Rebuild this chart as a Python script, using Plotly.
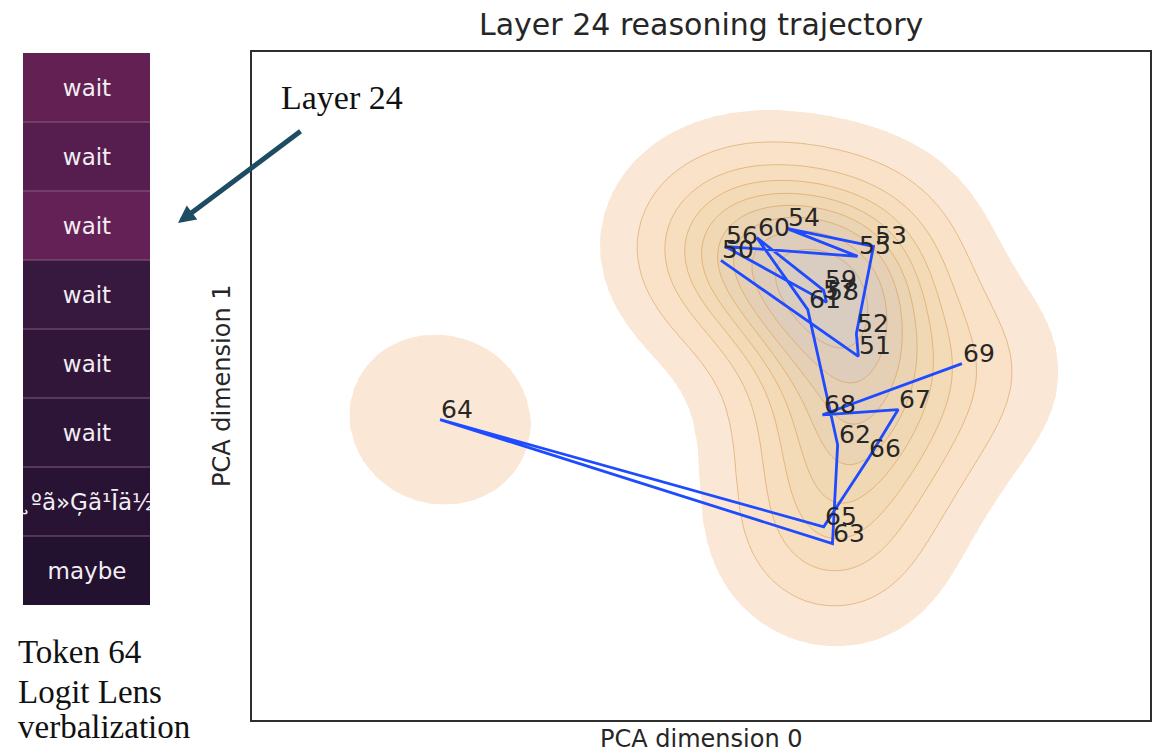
import numpy as np
import plotly.graph_objects as go

# ---- Layer 24 hidden states, tokens 50-69, projected on the first two PCA components
tokens = list(range(50, 70))
pca0 = [0.50, 3.95, 3.90, 4.33, 2.15, 3.93, 0.60, 3.03, 3.15, 3.08,
        1.40, 2.68, 3.43, 3.30, -6.55, 3.08, 4.20, 4.95, 3.05, 6.55]
pca1 = [3.53, 1.13, 1.70, 3.88, 4.33, 3.63, 3.88, 2.55, 2.48, 2.78,
        4.10, 2.30, -1.08, -3.55, -0.45, -3.13, -1.43, -0.20, -0.33, 0.95]

# ---- Logit-lens verbalization of token 64 (top to bottom) and cell strengths
lens_tokens = ["wait", "wait", "wait", "wait", "wait", "wait", "¸ºã»Ģã¹Īä½", "maybe"]
lens_probs = [0.31, 0.26, 0.32, 0.14, 0.115, 0.10, 0.08, 0.05]

# ---- Gaussian KDE of the trajectory (Scott bandwidth, full covariance)
pts = np.vstack([pca0, pca1])
n = pts.shape[1]
kcov = np.cov(pts) * (n ** (-1.0 / 6.0)) ** 2
kinv = np.linalg.inv(kcov)
bw = np.sqrt(np.diag(kcov))
xmin, xmax = pts[0].min() - 3 * bw[0], pts[0].max() + 3 * bw[0]
ymin, ymax = pts[1].min() - 3 * bw[1], pts[1].max() + 3 * bw[1]

gx = np.linspace(xmin, xmax, 220)
gy = np.linspace(ymin, ymax, 220)
GX, GY = np.meshgrid(gx, gy)
dens = np.zeros_like(GX)
for px, py in zip(pca0, pca1):
    dx, dy = GX - px, GY - py
    q = kinv[0, 0] * dx * dx + 2 * kinv[0, 1] * dx * dy + kinv[1, 1] * dy * dy
    dens += np.exp(-0.5 * q)
dens /= n * 2 * np.pi * np.sqrt(np.linalg.det(kcov))

# iso-proportion levels (5% .. 100% of the mass)
isoprop = np.linspace(0.05, 1.0, 10)
vals = np.sort(dens.ravel())[::-1]
cum = np.cumsum(vals) / vals.sum()
idx = np.clip(np.searchsorted(cum, 1 - isoprop), 0, vals.size - 1)
levels = vals[idx]
# map density onto level index so the contour levels become 0, 1, ..., 9
zlev = np.where(dens < levels[0], dens / levels[0] - 1.0,
                np.interp(dens, levels, np.arange(levels.size)))

band_colors = ["#fbe7d5", "#f9e2c8", "#f7debe", "#f4dbb7", "#f0d8b4",
               "#ebd4b4", "#e5d0b6", "#dfcdbb", "#d9ccc0"]
nb = len(band_colors)
kde_scale = [[0.0, "#ffffff"]] + [[(i + 1) / nb, c] for i, c in enumerate(band_colors)]

fig = go.Figure()

fig.add_trace(go.Contour(
    x=gx, y=gy, z=zlev, autocontour=False,
    contours=dict(start=0, end=nb - 1, size=1, coloring="fill", showlines=False),
    colorscale=kde_scale, showscale=False, line_smoothing=0.9,
    hoverinfo="skip", xaxis="x", yaxis="y"))
fig.add_trace(go.Contour(
    x=gx, y=gy, z=zlev, autocontour=False,
    contours=dict(start=1, end=nb - 1, size=1, coloring="none"),
    line=dict(color="rgba(212,150,75,0.55)", width=1, smoothing=0.9),
    showscale=False, hoverinfo="skip", xaxis="x", yaxis="y"))

fig.add_trace(go.Scatter(
    x=pca0, y=pca1, mode="lines",
    line=dict(color="rgb(30,75,255)", width=2.8),
    hoverinfo="skip", showlegend=False, xaxis="x", yaxis="y"))

# logit-lens column
fig.add_trace(go.Heatmap(
    z=[[p] for p in lens_probs], x=[0], y=list(range(len(lens_probs))),
    text=[[t] for t in lens_tokens], texttemplate="%{text}",
    textfont=dict(family="DejaVu Sans", size=23, color="#f3eef3"),
    colorscale=[[0.0, "#160e26"], [0.5, "#3f1a44"], [1.0, "#6c2258"]],
    zmin=0, zmax=0.35, showscale=False, hoverinfo="skip",
    xaxis="x2", yaxis="y2"))

W, H = 1161, 753
ann = []
for t, x, y in zip(tokens, pca0, pca1):
    ann.append(dict(x=x, y=y, xref="x", yref="y", text=str(t), showarrow=False,
                    xanchor="left", yanchor="bottom", xshift=-1, yshift=-6,
                    font=dict(family="DejaVu Sans", size=25, color="#262626")))

ann += [
    dict(x=701 / W, y=1 - 25 / H, xref="paper", yref="paper", showarrow=False,
         text="Layer 24 reasoning trajectory", xanchor="center", yanchor="middle",
         font=dict(family="DejaVu Sans", size=30, color="#262626")),
    dict(x=701 / W, y=1 - 739 / H, xref="paper", yref="paper", showarrow=False,
         text="PCA dimension 0", xanchor="center", yanchor="middle",
         font=dict(family="DejaVu Sans", size=24, color="#262626")),
    dict(x=222 / W, y=1 - 386 / H, xref="paper", yref="paper", showarrow=False,
         text="PCA dimension 1", textangle=-90, xanchor="center", yanchor="middle",
         font=dict(family="DejaVu Sans", size=24, color="#262626")),
    dict(x=279 / W, y=1 - 97 / H, xref="paper", yref="paper", showarrow=False,
         text="Layer 24", xanchor="left", yanchor="middle",
         font=dict(family="Liberation Serif", size=34, color="#111111")),
    dict(x=178 / W, y=1 - 223 / H, xref="paper", yref="paper", text="",
         showarrow=True, ax=124, ay=-93, arrowhead=2, arrowsize=0.7,
         arrowwidth=5, arrowcolor="#1e4d63", standoff=0),
]
for txt, yc in [("Token 64", 652), ("Logit Lens", 692), ("verbalization", 727)]:
    ann.append(dict(x=16 / W, y=1 - yc / H, xref="paper", yref="paper", showarrow=False,
                    text=txt, xanchor="left", yanchor="middle",
                    font=dict(family="Liberation Serif", size=33, color="#111111")))

shapes = []
for k in range(len(lens_tokens) - 1):
    shapes.append(dict(type="line", xref="x2", yref="y2", x0=-0.5, x1=0.5,
                       y0=k + 0.5, y1=k + 0.5,
                       line=dict(color="rgba(150,110,145,0.8)", width=1)))

hidden = dict(showticklabels=False, ticks="", showgrid=False, zeroline=False,
              showline=False)
frame = dict(showticklabels=False, ticks="", showgrid=False, zeroline=False,
             showline=True, mirror=True, linecolor="#2e2e2e", linewidth=2)

fig.update_layout(
    width=W, height=H, margin=dict(l=0, r=0, t=0, b=0),
    paper_bgcolor="white", plot_bgcolor="white", showlegend=False,
    xaxis=dict(domain=[252 / W, 1150 / W], range=[xmin, xmax], **frame),
    yaxis=dict(domain=[1 - 720 / H, 1 - 52 / H], range=[ymin, ymax], **frame),
    xaxis2=dict(domain=[23 / W, 150 / W], range=[-0.5, 0.5], **hidden),
    yaxis2=dict(domain=[1 - 605 / H, 1 - 53 / H],
                range=[len(lens_tokens) - 0.5, -0.5], **hidden),
    annotations=ann, shapes=shapes,
)

fig.write_html("out.html")
